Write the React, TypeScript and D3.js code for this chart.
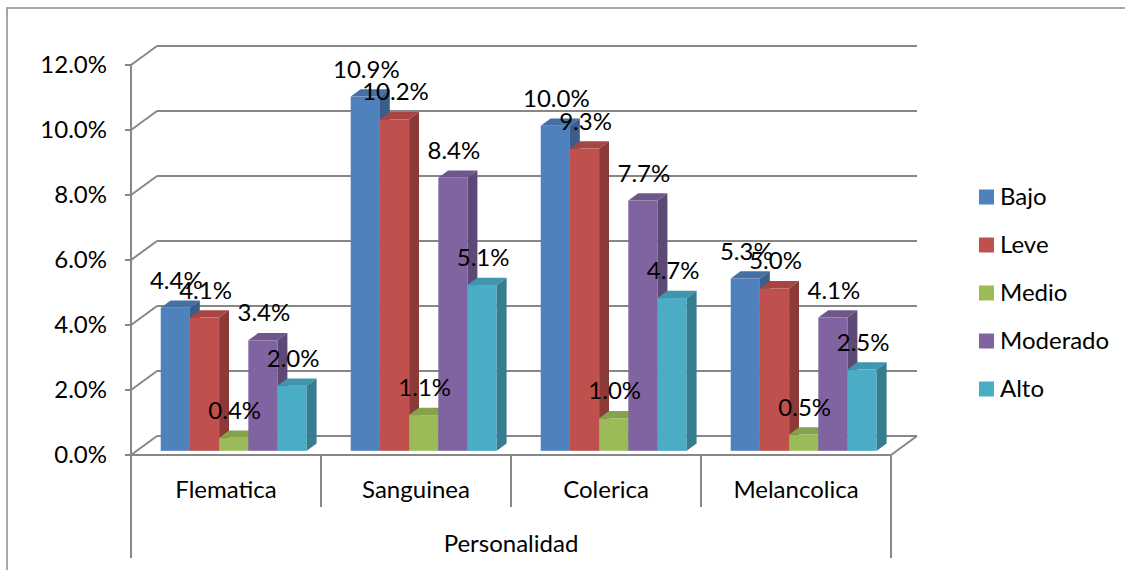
import { select, scaleBand, scaleLinear, color } from 'd3';
import { useEffect, useRef } from 'react';

const categories = ['Flematica', 'Sanguinea', 'Colerica', 'Melancolica'];
const series = ['Bajo', 'Leve', 'Medio', 'Moderado', 'Alto'];
const seriesColors = ['#4F81BD', '#C0504D', '#9BBB59', '#8064A2', '#4BACC6'];

const bajo = [0.044, 0.109, 0.1, 0.053];
const leve = [0.041, 0.102, 0.093, 0.05];
const medio = [0.004, 0.011, 0.01, 0.005];
const moderado = [0.034, 0.084, 0.077, 0.041];
const alto = [0.02, 0.051, 0.047, 0.025];
const values = [bajo, leve, medio, moderado, alto];

const yTicks = [0, 0.02, 0.04, 0.06, 0.08, 0.1, 0.12];
const axisTitle = 'Personalidad';

export default function App() {
  const svgRef = useRef<SVGSVGElement>(null);

  useEffect(() => {
    if (!svgRef.current) return;
    const svg = select(svgRef.current);
    const font = 'Lato, "Open Sans", sans-serif';
    const fs = 24;
    const grid = '#878787';

    // 3d depth of the plot box
    const DX = 26;
    const DY = -19;
    const f0 = 0.22; // bar front plane
    const f1 = 0.6; // bar back plane

    const x0 = scaleBand<string>().domain(categories).range([131, 891]);
    const x1 = scaleBand<string>().domain(series).range([24, 170]);
    const y = scaleLinear().domain([0, 0.12]).range([455, 65]);

    // outer frame
    svg
      .append('rect')
      .attr('x', 7)
      .attr('y', 8)
      .attr('width', 1300)
      .attr('height', 700)
      .attr('fill', 'none')
      .attr('stroke', '#8a8a8a')
      .attr('stroke-width', 1.5);

    const g = svg.append('g');

    // back wall gridlines + side diagonals
    yTicks.forEach((t) => {
      const yy = y(t);
      g.append('line')
        .attr('x1', 131 + DX)
        .attr('x2', 891 + DX)
        .attr('y1', yy + DY)
        .attr('y2', yy + DY)
        .attr('stroke', grid)
        .attr('stroke-width', 2);
      g.append('line')
        .attr('x1', 131)
        .attr('x2', 131 + DX)
        .attr('y1', yy)
        .attr('y2', yy + DY)
        .attr('stroke', grid)
        .attr('stroke-width', 2);
      g.append('line')
        .attr('x1', 125)
        .attr('x2', 131)
        .attr('y1', yy)
        .attr('y2', yy)
        .attr('stroke', grid)
        .attr('stroke-width', 2);
      g.append('text')
        .attr('x', 107)
        .attr('y', yy + 8)
        .attr('text-anchor', 'end')
        .attr('font-family', font)
        .attr('font-size', fs)
        .attr('fill', '#000')
        .text(`${(t * 100).toFixed(1)}%`);
    });

    // front axis & floor
    g.append('line')
      .attr('x1', 131)
      .attr('x2', 131)
      .attr('y1', y(0.12))
      .attr('y2', 558)
      .attr('stroke', grid)
      .attr('stroke-width', 2);
    g.append('line')
      .attr('x1', 131)
      .attr('x2', 891)
      .attr('y1', y(0))
      .attr('y2', y(0))
      .attr('stroke', grid)
      .attr('stroke-width', 2);
    g.append('line')
      .attr('x1', 891)
      .attr('x2', 891 + DX)
      .attr('y1', y(0))
      .attr('y2', y(0) + DY)
      .attr('stroke', grid)
      .attr('stroke-width', 2);
    g.append('line')
      .attr('x1', 891)
      .attr('x2', 891)
      .attr('y1', y(0))
      .attr('y2', 558)
      .attr('stroke', grid)
      .attr('stroke-width', 2);

    // category separators and labels
    categories.forEach((c, i) => {
      const cx = x0(c) || 0;
      if (i > 0) {
        g.append('line')
          .attr('x1', cx)
          .attr('x2', cx)
          .attr('y1', y(0))
          .attr('y2', 507)
          .attr('stroke', grid)
          .attr('stroke-width', 2);
      }
      g.append('text')
        .attr('x', cx + x0.bandwidth() / 2)
        .attr('y', 498)
        .attr('text-anchor', 'middle')
        .attr('font-family', font)
        .attr('font-size', fs)
        .text(c);
    });
    g.append('text')
      .attr('x', 511)
      .attr('y', 552)
      .attr('text-anchor', 'middle')
      .attr('font-family', font)
      .attr('font-size', fs)
      .text(axisTitle);

    // bars
    const fx = DX * f0;
    const fy = DY * f0;
    const bx = DX * (f1 - f0);
    const by = DY * (f1 - f0);
    const bars = g.append('g');
    const labels = g.append('g');
    categories.forEach((c, ci) => {
      series.forEach((s, si) => {
        const v = values[si][ci];
        const xl = (x0(c) || 0) + (x1(s) || 0) + fx;
        const w = x1.bandwidth();
        const yb = y(0) + fy;
        const yt = y(v) + fy;
        const base = color(seriesColors[si]);
        const side = base?.darker(0.9).toString() || seriesColors[si];
        const top = base?.darker(0.4).toString() || seriesColors[si];
        bars
          .append('rect')
          .attr('x', xl)
          .attr('y', yt)
          .attr('width', w)
          .attr('height', yb - yt)
          .attr('fill', seriesColors[si]);
        bars
          .append('path')
          .attr(
            'd',
            `M${xl},${yt}L${xl + w},${yt}L${xl + w + bx},${yt + by}L${xl + bx},${yt + by}Z`,
          )
          .attr('fill', top);
        bars
          .append('path')
          .attr(
            'd',
            `M${xl + w},${yt}L${xl + w + bx},${yt + by}L${xl + w + bx},${yb + by}L${xl + w},${yb}Z`,
          )
          .attr('fill', side);
        labels
          .append('text')
          .attr('x', xl + w / 2 + 1)
          .attr('y', yt - 19)
          .attr('text-anchor', 'middle')
          .attr('font-family', font)
          .attr('font-size', fs)
          .text(`${(v * 100).toFixed(1)}%`);
      });
    });

    // legend
    const legend = svg.append('g');
    series.forEach((s, i) => {
      const ly = 197 + i * 48;
      legend
        .append('rect')
        .attr('x', 979)
        .attr('y', ly - 7.5)
        .attr('width', 15)
        .attr('height', 15)
        .attr('fill', seriesColors[i]);
      legend
        .append('text')
        .attr('x', 1000)
        .attr('y', ly + 8)
        .attr('font-family', font)
        .attr('font-size', fs)
        .text(s);
    });

    return () => {
      svg.selectAll('*').remove();
    };
  }, []);

  return (
    <svg
      ref={svgRef}
      width={1125}
      height={570}
      style={{ position: 'absolute', left: 0, top: 0, background: '#fff' }}
    />
  );
}
